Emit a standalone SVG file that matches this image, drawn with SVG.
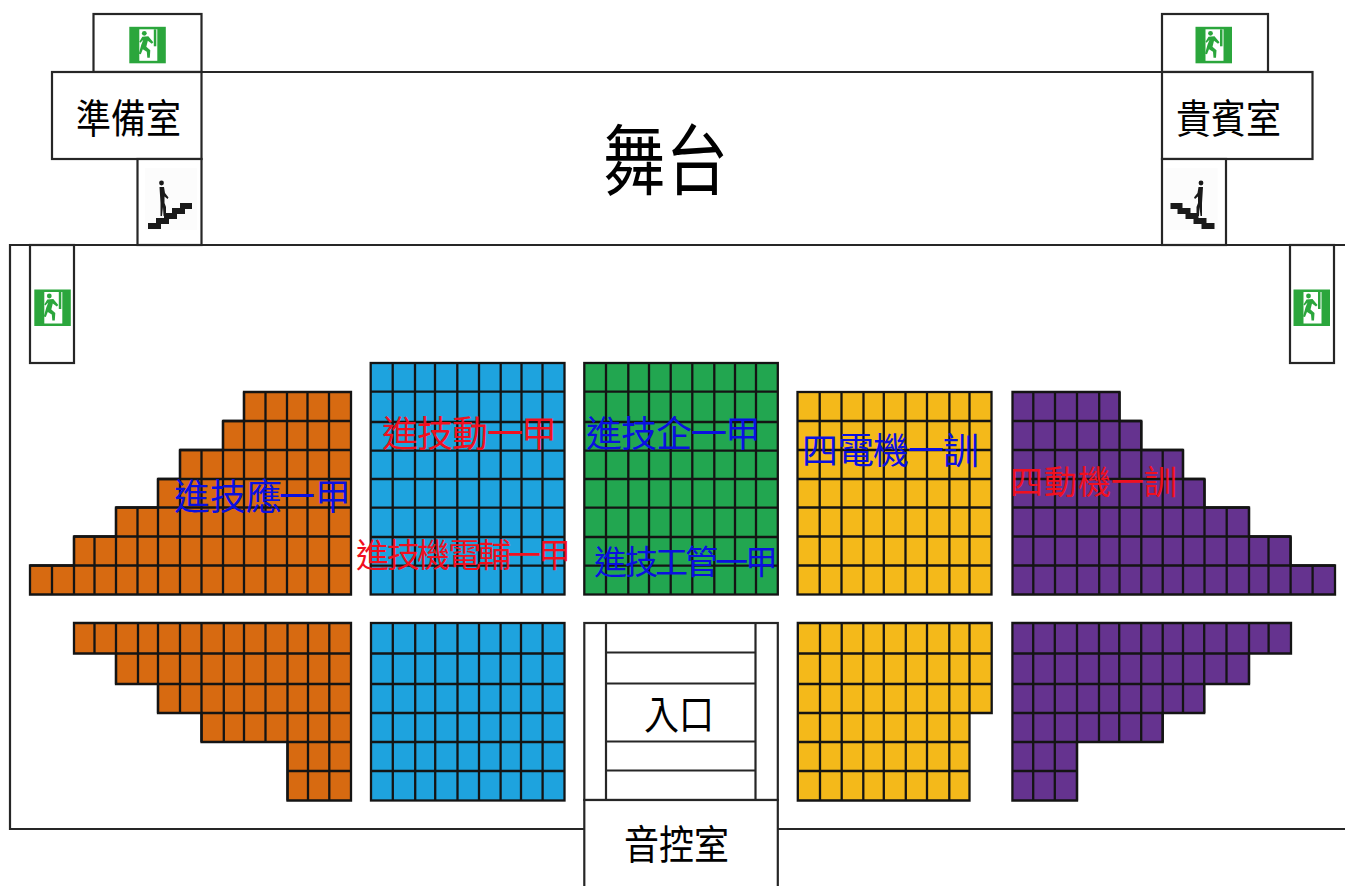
<svg xmlns="http://www.w3.org/2000/svg" width="1345" height="886" viewBox="0 0 1345 886">
<style>
.room{fill:#fff;stroke:#262626;stroke-width:2.2}
.line{fill:none;stroke:#262626;stroke-width:2.2}
.grid{fill:none;stroke:#141414;stroke-width:2.3}
.orange{fill:#D76A11;stroke:#141414;stroke-width:2.3}
.blue{fill:#1EA3DE;stroke:#141414;stroke-width:2.3}
.green{fill:#22A650;stroke:#141414;stroke-width:2.3}
.yellow{fill:#F4B91A;stroke:#141414;stroke-width:2.3}
.purple{fill:#65338F;stroke:#141414;stroke-width:2.3}
text{font-family:"Noto Sans CJK TC","Noto Sans CJK SC",sans-serif}
.lbl{fill:#000;font-size:35px;font-weight:400}
.big{fill:#000;font-size:62px;font-weight:400}
.r{fill:#F01020;font-weight:400}
.b{fill:#0A10E0;font-weight:400}
</style>
<defs>
<g id="exit">
<rect width="36.5" height="36.5" fill="#2BA63C"/>
<rect x="10" y="2.5" width="18" height="31.5" fill="#fff"/>
<rect x="24.5" y="2.5" width="2.5" height="17" fill="#2BA63C"/>
<circle cx="15" cy="6.5" r="2.4" fill="#2BA63C"/>
<path d="M13 10L19 9.5L24 15.5L22.5 17L18.5 14L17 20L21 23.5L20.5 31H18L17.5 25L13.5 22.5L11.5 27.5L9.5 27L12 18L14 13L11 16L10 15Z" fill="#2BA63C"/>
</g>
<g id="stairs">
<rect x="145" y="168" width="52" height="62" fill="#fcfcfc"/>
<path d="M148 229V223H156V218H164V213H172V208H180V203H192V209H185V214H177V219H169V224H161V229Z" fill="#1a1a1a"/>
<circle cx="161.5" cy="183" r="2.4" fill="#1a1a1a"/>
<path d="M159.5 187H164L165 193L168.5 197.5L167.5 199L164.5 196.5V203L166 207V216H163.5L163 207L162 216H160.5V203Z" fill="#1a1a1a"/>
</g>
</defs>
<rect width="1345" height="886" fill="#fff"/>

<g id="connectors">
<path class="line" d="M202 72H1162"/>
<path class="line" d="M1345 245H10V829H584M778 829H1345"/>
</g>

<g id="stage"><text class="big" transform="translate(603 189) scale(1 1.25)" x="0" y="0">舞<tspan x="63">台</tspan></text></g>

<g id="room-prep-exit"><rect class="room" x="93.5" y="14" width="108" height="58"/><use href="#exit" x="129.3" y="26.8"/></g>
<g id="room-prep"><rect class="room" x="52" y="72" width="149.5" height="87"/><text class="lbl" transform="translate(76 133) scale(1 1.15)" x="0" y="0">準備室</text></g>
<g id="stairs-left"><rect class="room" x="137.5" y="159" width="64" height="86"/><use href="#stairs"/></g>
<g id="room-vip-exit"><rect class="room" x="1162" y="14" width="106" height="58"/><use href="#exit" x="1195.5" y="26.8"/></g>
<g id="room-vip"><rect class="room" x="1162" y="72" width="150.5" height="87"/><text class="lbl" transform="translate(1176 133) scale(1 1.15)" x="0" y="0">貴賓室</text></g>
<g id="stairs-right"><rect class="room" x="1162" y="159" width="64" height="86"/><use href="#stairs" transform="translate(1362.5 0) scale(-1 1)"/></g>
<g id="exit-left"><rect class="room" x="30" y="245" width="44" height="118"/><use href="#exit" x="34.3" y="289.5"/></g>
<g id="exit-right"><rect class="room" x="1290" y="245" width="44" height="118"/><use href="#exit" x="1293.5" y="289.5"/></g>

<g id="seats-orange-upper">
<path class="orange" d="M244 392H351V594.5H30V565.5H74V536.5H116V507.5H158V479H180V450H223V421H244Z"/>
<path class="grid" d="M223 421H351M180 450H351M158 479H351M116 507.5H351M74 536.5H351M30 565.5H351M52 565.5V594.5M74 536.5V594.5M94.5 536.5V594.5M116 507.5V594.5M137.5 507.5V594.5M158 479V594.5M180 450V594.5M201.5 450V594.5M223 421V594.5M244 392V594.5M265.5 392V594.5M287 392V594.5M307.5 392V594.5M329 392V594.5"/>
</g>
<g id="seats-blue-upper">
<rect class="blue" x="370.7" y="363" width="193.8" height="231.5"/>
<path class="grid" d="M370.7 391.7H564.5M370.7 422H564.5M370.7 450.7H564.5M370.7 479H564.5M370.7 507.7H564.5M370.7 537H564.5M370.7 565.7H564.5M392.7 363V594.5M415 363V594.5M435 363V594.5M457.3 363V594.5M479 363V594.5M500.7 363V594.5M521.5 363V594.5M542.5 363V594.5"/>
</g>
<g id="seats-green-upper">
<rect class="green" x="584.3" y="363" width="193.5" height="231.5"/>
<path class="grid" d="M584.3 391.7H777.8M584.3 422H777.8M584.3 450.7H777.8M584.3 479H777.8M584.3 507.7H777.8M584.3 537H777.8M584.3 565.7H777.8M606 363V594.5M628.3 363V594.5M649 363V594.5M670.7 363V594.5M692.3 363V594.5M714.3 363V594.5M735 363V594.5M756 363V594.5"/>
</g>
<g id="seats-yellow-upper">
<rect class="yellow" x="797.5" y="392" width="194" height="202.5"/>
<path class="grid" d="M797.5 421H991.5M797.5 450H991.5M797.5 479H991.5M797.5 507.5H991.5M797.5 536.5H991.5M797.5 565.5H991.5M819.7 392V594.5M841.5 392V594.5M863.5 392V594.5M883.8 392V594.5M905.5 392V594.5M927 392V594.5M949.4 392V594.5M969.5 392V594.5"/>
</g>
<g id="seats-purple-upper">
<path class="purple" d="M1012.5 392H1119.5V421H1141.3V450H1183V479H1204.5V507.5H1249V536.5H1290.6V565.5H1335V594.5H1012.5Z"/>
<path class="grid" d="M1012.5 421H1141.3M1012.5 450H1183M1012.5 479H1204.5M1012.5 507.5H1249M1012.5 536.5H1290.6M1012.5 565.5H1335M1033.3 392V594.5M1055 392V594.5M1077 392V594.5M1099.2 392V594.5M1119.5 392V594.5M1141.3 421V594.5M1162.7 450V594.5M1183 450V594.5M1204.5 479V594.5M1226.7 507.5V594.5M1249 507.5V594.5M1268.5 536.5V594.5M1290.6 536.5V594.5M1312.6 565.5V594.5"/>
</g>

<g id="seats-orange-lower">
<path class="orange" d="M74 623H351V800.5H287.5V742H201.5V713H158V684H116V653.5H74Z"/>
<path class="grid" d="M116 653.5H351M158 684H351M201.5 713H351M287.5 742H351M287.5 771H351M94.5 623V653.5M116 623V684M138 623V684M158 623V713M180 623V713M201.5 623V742M223.8 623V742M244 623V742M265.5 623V742M287.5 623V800.5M308 623V800.5M329.3 623V800.5"/>
</g>
<g id="seats-blue-lower">
<rect class="blue" x="371" y="623" width="193.5" height="177.5"/>
<path class="grid" d="M371 653.5H564.5M371 684H564.5M371 713H564.5M371 742H564.5M371 771H564.5M392.8 623V800.5M415.2 623V800.5M435.2 623V800.5M457.5 623V800.5M479 623V800.5M500.6 623V800.5M521 623V800.5M542.6 623V800.5"/>
</g>
<g id="seats-yellow-lower">
<path class="yellow" d="M797.8 623H991.7V713H969.5V800.5H797.8Z"/>
<path class="grid" d="M797.8 653.5H991.7M797.8 684H991.7M797.8 713H969.5M797.8 742H969.5M797.8 771H969.5M820 623V800.5M841.7 623V800.5M863.3 623V800.5M883.8 623V800.5M905.8 623V800.5M927 623V800.5M949.3 623V800.5M969.5 623V713"/>
</g>
<g id="seats-purple-lower">
<path class="purple" d="M1012.4 623H1291V653.5H1249V684H1204.2V713H1162.7V742H1077V800.5H1012.4Z"/>
<path class="grid" d="M1012.4 653.5H1249M1012.4 684H1204.2M1012.4 713H1162.7M1012.4 742H1077M1012.4 771H1077M1033.2 623V800.5M1054.8 623V800.5M1077 623V800.5M1099 623V742M1119.2 623V742M1141.2 623V742M1162.7 623V742M1183 623V713M1204.2 623V713M1226.5 623V684M1249 623V684M1268.6 623V653.5"/>
</g>

<g id="entrance">
<rect class="room" x="584.3" y="623" width="193.5" height="177"/>
<path class="line" d="M606 623V800M755.5 623V800M606 652.5H755.5M606 683.5H755.5M606 741.5H755.5M606 770.5H755.5"/>
<text class="lbl" transform="translate(644 729) scale(1 1.15)" x="0" y="0">入口</text>
</g>
<g id="control-room">
<rect class="room" x="584.3" y="800" width="193.5" height="90"/>
<text class="lbl" transform="translate(624 859) scale(1 1.15)" x="0" y="0">音控室</text>
</g>

<g id="labels">
<text class="b" font-size="36" x="174 210 246 279 315" y="510">進技應一甲</text>
<text class="r" font-size="36" x="382 417 452 487 521" y="447">進技動一甲</text>
<text class="r" font-size="33" x="356 387 417 448 478 508 538" y="567">進技機電輔一甲</text>
<text class="b" font-size="36" x="586 621 656 691 725" y="447">進技企一甲</text>
<text class="b" font-size="33" x="594 625 655 685 715 745" y="574">進技工管一甲</text>
<text class="b" font-size="36" x="802 838 873 908 943" y="464">四電機一訓</text>
<text class="r" font-size="33" x="1010 1044 1078 1111 1144" y="494">四動機一訓</text>
</g>
</svg>
